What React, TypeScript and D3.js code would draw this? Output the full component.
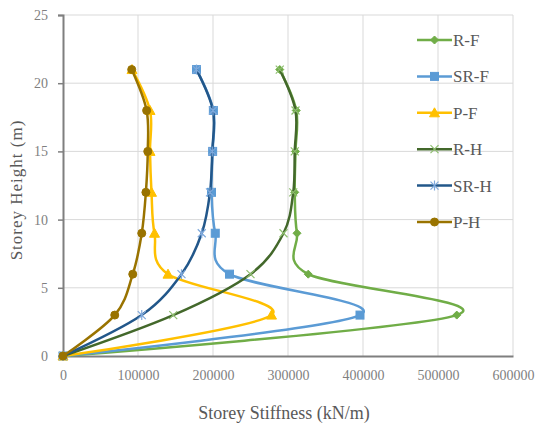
import React, { useEffect, useRef } from 'react';
import * as d3 from 'd3';

// storey heights (m) shared by every series
const heights = [0, 3, 6, 9, 12, 15, 18, 21];

// storey stiffness (kN/m)
const rF = [0, 525000, 327000, 312000, 309000, 310000, 311000, 289000];
const srF = [0, 396000, 222000, 203000, 198000, 199500, 200500, 178000];
const pF = [0, 278000, 140000, 122000, 118000, 116000, 116000, 92000];
const rH = [0, 147000, 250000, 294000, 307000, 309000, 310000, 289000];
const srH = [0, 105000, 158000, 185000, 196000, 199000, 200000, 178000];
const pH = [0, 69000, 93000, 105000, 110500, 113000, 111500, 91600];

const seriesNames = ['R-F', 'SR-F', 'P-F', 'R-H', 'SR-H', 'P-H'];
const seriesValues = [rF, srF, pF, rH, srH, pH];
const seriesColors = ['#70AD47', '#5B9BD5', '#FFC000', '#43682B', '#22578A', '#997300'];
const seriesMarkers = ['diamond', 'square', 'triangle', 'x', 'star', 'circle'];

const xTicks = [0, 100000, 200000, 300000, 400000, 500000, 600000];
const yTicks = [0, 5, 10, 15, 20, 25];

const W = 536;
const H = 427;

function drawMarker(g: d3.Selection<SVGGElement, unknown, null, undefined>, kind: string, color: string) {
  const s = 4;
  if (kind === 'diamond') {
    g.append('path').attr('d', `M0,${-s}L${s},0L0,${s}L${-s},0Z`).attr('fill', color).attr('stroke', color);
  } else if (kind === 'square') {
    g.append('rect').attr('x', -s).attr('y', -s).attr('width', 2 * s).attr('height', 2 * s)
      .attr('fill', color).attr('stroke', color);
  } else if (kind === 'triangle') {
    g.append('path').attr('d', `M0,${-s - 1}L${s + 1},${s}L${-s - 1},${s}Z`).attr('fill', color).attr('stroke', color);
  } else if (kind === 'x') {
    g.append('path').attr('d', `M${-s},${-s}L${s},${s}M${-s},${s}L${s},${-s}`)
      .attr('stroke', '#8FBF70').attr('stroke-width', 1.2).attr('fill', 'none');
  } else if (kind === 'star') {
    g.append('path').attr('d', `M${-s},${-s}L${s},${s}M${-s},${s}L${s},${-s}M0,${-s - 1}L0,${s + 1}`)
      .attr('stroke', '#7FA9DC').attr('stroke-width', 1.2).attr('fill', 'none');
  } else {
    g.append('circle').attr('r', s).attr('fill', color).attr('stroke', color);
  }
}

export default function App() {
  const svgRef = useRef<SVGSVGElement>(null);

  useEffect(() => {
    if (!svgRef.current) return;
    const svg = d3.select(svgRef.current);
    svg.selectAll('*').remove();

    const x = d3.scaleLinear().domain([0, 600000]).range([63, 513]);
    const y = d3.scaleLinear().domain([0, 25]).range([356, 15]);

    svg.append('rect').attr('width', W).attr('height', H).attr('fill', '#fff');

    // gridlines
    const grid = svg.append('g');
    grid.selectAll('line.h').data(yTicks.slice(1)).join('line')
      .attr('x1', x(0)).attr('x2', x(600000))
      .attr('y1', d => y(d)).attr('y2', d => y(d))
      .attr('stroke', '#D9D9D9').attr('stroke-width', 1);
    grid.selectAll('line.v').data(xTicks.slice(1)).join('line')
      .attr('y1', y(0)).attr('y2', y(25))
      .attr('x1', d => x(d)).attr('x2', d => x(d))
      .attr('stroke', '#D9D9D9').attr('stroke-width', 1);

    // axes
    const yAxis = svg.append('g').attr('transform', `translate(${x(0)},0)`)
      .call(d3.axisLeft(y).tickValues(yTicks).tickSize(5).tickPadding(10).tickFormat(d3.format('d')));
    const xAxis = svg.append('g').attr('transform', `translate(0,${y(0)})`)
      .call(d3.axisBottom(x).tickValues(xTicks).tickSize(0).tickPadding(14).tickFormat(d3.format('d')));
    [yAxis, xAxis].forEach(a => {
      a.select('.domain').attr('stroke', '#7F7F7F').attr('stroke-width', 2);
      a.selectAll('.tick line').attr('stroke', '#7F7F7F').attr('stroke-width', 1.5);
      a.selectAll('.tick text')
        .attr('fill', '#7F7F7F')
        .style('font-family', '"Liberation Serif", serif')
        .style('font-size', '14px');
    });

    // series
    const line = d3.line<number>()
      .x(d => x(d))
      .y((_, i) => y(heights[i]))
      .curve(d3.curveCardinal.tension(0));

    seriesValues.forEach((vals, si) => {
      const color = seriesColors[si];
      svg.append('path')
        .datum(vals)
        .attr('d', line)
        .attr('fill', 'none')
        .attr('stroke', color)
        .attr('stroke-width', 2.5);
      vals.forEach((v, i) => {
        const m = svg.append('g').attr('transform', `translate(${x(v)},${y(heights[i])})`);
        drawMarker(m, seriesMarkers[si], color);
      });
    });

    // legend
    const legend = svg.append('g');
    seriesNames.forEach((name, i) => {
      const ly = 40 + i * 36.4;
      const color = seriesColors[i];
      legend.append('line')
        .attr('x1', 417).attr('x2', 452).attr('y1', ly).attr('y2', ly)
        .attr('stroke', color).attr('stroke-width', 2.5);
      const m = legend.append('g').attr('transform', `translate(434.5,${ly})`);
      drawMarker(m, seriesMarkers[i], color);
      legend.append('text')
        .attr('x', 453).attr('y', ly).attr('dy', '0.35em')
        .attr('fill', '#595959')
        .style('font-family', '"Liberation Serif", serif')
        .style('font-size', '17px')
        .text(name);
    });

    // axis titles
    svg.append('text')
      .attr('x', 284).attr('y', 413).attr('dy', '0.35em')
      .attr('text-anchor', 'middle')
      .attr('fill', '#595959')
      .style('font-family', '"Liberation Serif", serif')
      .style('font-size', '18px')
      .text('Storey Stiffness (kN/m)');
    svg.append('text')
      .attr('transform', `translate(16,190) rotate(-90)`)
      .attr('dy', '0.35em')
      .attr('text-anchor', 'middle')
      .attr('fill', '#595959')
      .style('font-family', '"Liberation Serif", serif')
      .style('font-size', '17px')
      .style('letter-spacing', '1px')
      .text('Storey Height (m)');
  }, []);

  return (
    <svg
      ref={svgRef}
      width={W}
      height={H}
      style={{ position: 'absolute', left: 0, top: 0, display: 'block' }}
    />
  );
}
